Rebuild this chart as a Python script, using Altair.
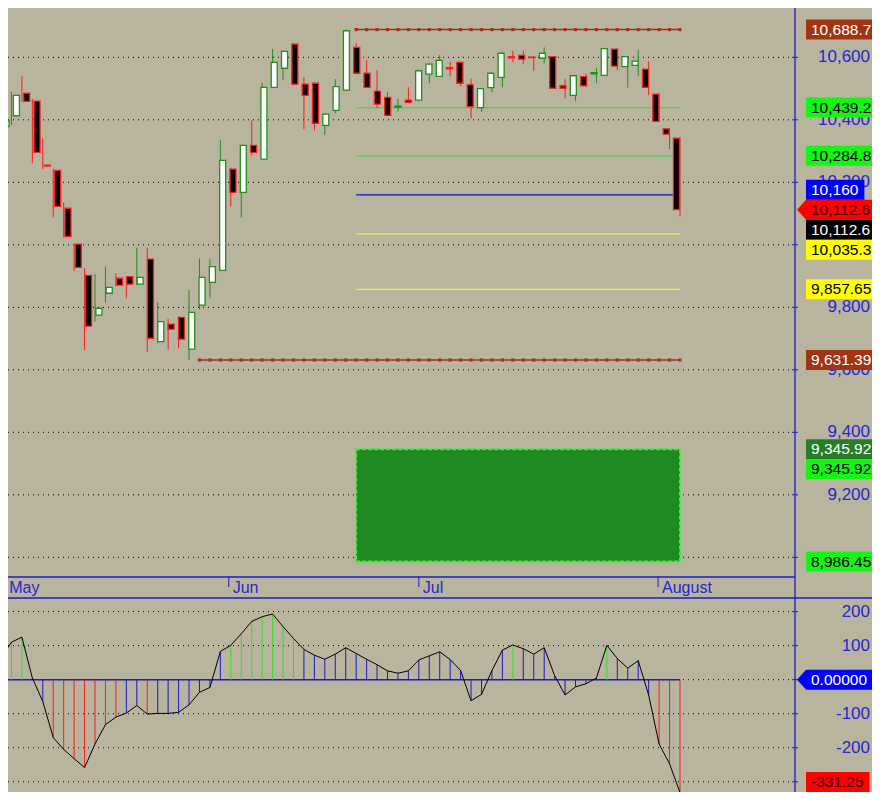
import altair as alt
import pandas as pd

# ---------------- data ----------------
opens = [10378, 10413, 10485, 10460, 10255, 10238, 10117, 10002, 9902, 9775,
         9845, 9893, 9898, 9874, 9954, 9690, 9746, 9768, 9666, 9807,
         9880, 9918, 10242, 10168, 10318, 10274, 10504, 10565, 10642, 10514,
         10517, 10382, 10430, 10495, 10632, 10549, 10492, 10472, 10440, 10463,
         10463, 10546, 10539, 10567, 10584, 10512, 10439, 10503, 10536, 10602,
         10606, 10601, 10597, 10602, 10509, 10478, 10538, 10547, 10542, 10626,
         10570, 10574, 10562, 10482, 10371, 10341]
highs = [10400, 10490, 10540, 10466, 10341, 10242, 10136, 10004, 9925, 9907,
         9930, 9909, 9900, 9991, 9991, 9816, 9763, 9770, 9855, 9956,
         9954, 10335, 10247, 10320, 10399, 10519, 10627, 10622, 10645, 10536,
         10520, 10420, 10530, 10688.7, 10645, 10591, 10559, 10488, 10467, 10504,
         10560, 10580, 10607, 10585, 10586, 10532, 10502, 10551, 10615, 10621,
         10621, 10601, 10632, 10604, 10530, 10543, 10547, 10565, 10630, 10628,
         10604, 10623, 10586, 10484, 10373, 10343]
lows = [10370, 10383, 10457, 10261, 10243, 10088, 10024, 9917, 9663, 9754,
        9815, 9868, 9829, 9872, 9658, 9685, 9666, 9669, 9631.39, 9794,
        9829, 9916, 10122, 10087, 10285, 10272, 10502, 10527, 10511, 10370,
        10365, 10352, 10421, 10493, 10547, 10502, 10437, 10412, 10427, 10455,
        10461, 10517, 10537, 10540, 10508, 10405, 10426, 10489, 10504, 10584,
        10578, 10557, 10581, 10499, 10468, 10461, 10507, 10517, 10540, 10559,
        10503, 10541, 10479, 10393, 10307, 10092]
closes = [10397, 10478, 10459, 10296, 10252, 10123, 10027, 9928, 9740, 9797,
          9864, 9871, 9874, 9896, 9701, 9754, 9730, 9698, 9784, 9896,
          9930, 10270, 10168, 10318, 10296, 10504, 10584, 10619, 10514, 10478,
          10389, 10418, 10506, 10685, 10549, 10504, 10450, 10414, 10444, 10456,
          10557, 10578, 10590, 10563, 10517, 10442, 10500, 10549, 10613, 10598,
          10594, 10599, 10613, 10501, 10501, 10541, 10509, 10551, 10628, 10572,
          10602, 10588, 10504, 10395, 10354, 10112.6]
osc = [65, 110, 125, 5, -64, -170, -205, -232, -258, -189,
       -132, -110, -98, -76, -101, -99, -99, -96, -74, -37,
       -23, 83, 101, 135, 171, 185, 193, 156, 121, 89,
       72, 60, 75, 94, 77, 60, 44, 26, 19, 26,
       58, 70, 82, 59, 27, -62, -43, 27, 87, 102,
       91, 75, 94, 12, -45, -21, -12, 5, 101, 62,
       34, 56, -45, -189, -247, -331.25]

months = ["May", "Jun", "Jul", "August"]
month_at = [0.4, 21.8, 40.0, 62.9]
price_ticks = [10600, 10400, 10200, 10000, 9800, 9600, 9400, 9200, 9000]
osc_ticks = [200, 100, 0, -100, -200, -300]

range_high = 10688.7
range_low = 9631.39
fib_levels = [10439.2, 10284.8, 10160, 10035.3, 9857.65]
fib_labels = ["10,439.2", "10,284.8", "10,160", "10,035.3", "9,857.65"]
zone_top = 9345.92
zone_bottom = 8986.45
last_close = 10112.6
osc_last = -331.25

high_start, low_start, fib_start, last_bar = 34, 19, 34, 65

# ---------------- styling / layout ----------------
BG = "#b9b49d"
AX = "#1c1cc8"
LBL = "#2626d2"
FONT = "Liberation Sans"
W, H = 787, 784
RIGHT = 77
PRICE_BOTTOM = 569
OSC_TOP = 590
P_LO, P_HI = 8937.0, 10757.8
O_LO, O_HI = -330.0, 240.0
BOX_H = 20
TAG_FS = 15.5

xs = alt.Scale(domain=[0.67, 76.01], nice=False, zero=False)
ps = alt.Scale(domain=[P_LO, P_HI], range=[PRICE_BOTTOM, 0], nice=False, zero=False)
oscs = alt.Scale(domain=[O_LO, O_HI], range=[H, OSC_TOP], nice=False, zero=False)


def X(f):
    return alt.X(f, scale=xs, axis=None)


def YP(f):
    return alt.Y(f, scale=ps, axis=None)


def YO(f):
    return alt.Y(f, scale=oscs, axis=None)


n = len(opens)
bars = pd.DataFrame({"i": list(range(n)), "o": opens, "h": highs, "l": lows, "c": closes})
bars["stroke"] = ["#1f8f1f" if c >= o else "#ff1c1c" for o, c in zip(opens, closes)]
bars["fill"] = ["#ffffff" if c >= o else "#000000" for o, c in zip(opens, closes)]

oscdf = pd.DataFrame({"i": list(range(n)), "v": osc, "z": [0] * n})
oscdf["col"] = ["#2ee02e" if v > 100 else ("#ff1c1c" if v < -100 else "#1a1ac8") for v in osc]

# grids
pgrid = alt.Chart(pd.DataFrame({"v": price_ticks})).mark_rule(
    color="black", strokeDash=[1, 4], strokeWidth=1).encode(
    y=YP("v:Q"), x=alt.value(0), x2=alt.value(W - 2))
ogrid = alt.Chart(pd.DataFrame({"v": osc_ticks})).mark_rule(
    color="black", strokeDash=[1, 4], strokeWidth=1).encode(
    y=YO("v:Q"), x=alt.value(0), x2=alt.value(W - 2))

# zone rectangle
zone = alt.Chart(pd.DataFrame({"x0": [fib_start], "x1": [last_bar], "t": [zone_top], "b": [zone_bottom]})).mark_rect(
    fill="#1f8a22", stroke="#3cf03c", strokeDash=[4, 2], strokeWidth=2, clip=True).encode(
    x=X("x0:Q"), x2="x1:Q", y=YP("t:Q"), y2="b:Q")

# fib lines
fibdf = pd.DataFrame({"x0": [fib_start] * 5, "x1": [last_bar] * 5, "v": fib_levels,
                      "col": ["#3ae03a", "#3ae03a", "#1010d0", "#f2f040", "#f2f040"]})
fib = alt.Chart(fibdf).mark_rule(strokeWidth=1.2, clip=True).encode(
    x=X("x0:Q"), x2="x1:Q", y=YP("v:Q"), color=alt.Color("col:N", scale=None))

# high / low range lines with square markers
hl_rows = [{"i": k, "v": range_high, "g": "h"} for k in range(high_start, last_bar + 1)] + \
          [{"i": k, "v": range_low, "g": "l"} for k in range(low_start, last_bar + 1)]
hldf = pd.DataFrame(hl_rows)
hlline = alt.Chart(hldf).mark_line(color="#a0301a", strokeWidth=1.5, clip=True).encode(
    x=X("i:Q"), y=YP("v:Q"), detail="g:N")
hlpts = alt.Chart(hldf).mark_square(color="#a0301a", size=10, opacity=1, clip=True).encode(
    x=X("i:Q"), y=YP("v:Q"))

# candles
wick = alt.Chart(bars).mark_rule(strokeWidth=1, clip=True).encode(
    x=X("i:Q"), y=YP("l:Q"), y2="h:Q", color=alt.Color("stroke:N", scale=None))
body = alt.Chart(bars).mark_bar(size=6, strokeWidth=1.3, clip=True).encode(
    x=X("i:Q"), y=YP("o:Q"), y2="c:Q",
    fill=alt.Fill("fill:N", scale=None), stroke=alt.Stroke("stroke:N", scale=None))

# oscillator
zline = alt.Chart(pd.DataFrame({"x0": [0], "x1": [last_bar], "v": [0]})).mark_rule(
    color=AX, strokeWidth=1.5, clip=True).encode(x=X("x0:Q"), x2="x1:Q", y=YO("v:Q"))
sticks = alt.Chart(oscdf).mark_rule(strokeWidth=1, clip=True).encode(
    x=X("i:Q"), y=YO("z:Q"), y2="v:Q", color=alt.Color("col:N", scale=None))
oline = alt.Chart(oscdf).mark_line(color="black", strokeWidth=1, clip=True).encode(
    x=X("i:Q"), y=YO("v:Q"))

# frame: right axis line, date band
dummy = pd.DataFrame({"a": [0]})
axline = alt.Chart(dummy).mark_rule(color=AX, strokeWidth=1.3).encode(
    x=alt.value(W), y=alt.value(0), y2=alt.value(H))
band1 = alt.Chart(dummy).mark_rule(color=AX, strokeWidth=1.3).encode(
    y=alt.value(PRICE_BOTTOM), x=alt.value(0), x2=alt.value(W))
band2 = alt.Chart(dummy).mark_rule(color=AX, strokeWidth=1.3).encode(
    y=alt.value(OSC_TOP), x=alt.value(0), x2=alt.value(W + RIGHT))
mdf = pd.DataFrame({"m": months, "i": month_at})
mticks = alt.Chart(mdf).mark_rule(color=AX, strokeWidth=1, clip=True).encode(
    x=X("i:Q"), y=alt.value(PRICE_BOTTOM), y2=alt.value(PRICE_BOTTOM + 10))
mlabels = alt.Chart(mdf).mark_text(align="left", baseline="alphabetic", dx=4,
                                   font=FONT, fontSize=16, color=LBL).encode(
    x=X("i:Q"), y=alt.value(PRICE_BOTTOM + 16), text="m:N")

# value tags on the right axis
CW = {",": 0.278, ".": 0.278, "-": 0.333}


def text_w(s, size=TAG_FS):
    return sum(CW.get(ch, 0.556) for ch in s) * size


def build_tags(tags, lo, hi, top, bot):
    pxu = (bot - top) / (hi - lo)
    placed = []
    rows = []
    order = sorted(range(len(tags)), key=lambda k: 0 if tags[k]["arrow"] else 1)
    for k in order:
        t = tags[k]
        y = top + (hi - t["v"]) * pxu
        for _ in range(20):
            hit = next((p for p in placed if abs(p[0] - y) < BOX_H - 0.01), None)
            if hit is None:
                break
            y = hit[0] - BOX_H if t["v"] > hit[1] else hit[0] + BOX_H
        y = min(max(y, top + BOX_H / 2), bot - BOX_H / 2)
        placed.append((y, t["v"]))

        def val(py):
            return hi - (py - top) / pxu

        rows.append({"label": t["label"], "yd": val(y), "yt": val(y - BOX_H / 2), "yb": val(y + BOX_H / 2),
                     "py": y, "fill": t["fill"], "tc": t["tc"], "arrow": t["arrow"],
                     "bx0": W + 11, "bx1": min(W + 11 + 5 + text_w(t["label"]) + 6, W + RIGHT)})
    return pd.DataFrame(rows)


BROWN, LIME, YEL, DKG = "#a13412", "#14f514", "#ffff00", "#267f26"
price_tags = [
    {"label": "10,688.7", "v": range_high, "fill": BROWN, "tc": "#ffffff", "arrow": False},
    {"label": fib_labels[0], "v": fib_levels[0], "fill": LIME, "tc": "#000000", "arrow": False},
    {"label": fib_labels[1], "v": fib_levels[1], "fill": LIME, "tc": "#000000", "arrow": False},
    {"label": fib_labels[2], "v": fib_levels[2], "fill": "#0000ff", "tc": "#ffffff", "arrow": False},
    {"label": "10,112.6", "v": last_close, "fill": "#ff0000", "tc": "#3a0000", "arrow": True},
    {"label": "10,112.6", "v": last_close, "fill": "#000000", "tc": "#ffffff", "arrow": False},
    {"label": fib_labels[3], "v": fib_levels[3], "fill": YEL, "tc": "#000000", "arrow": False},
    {"label": fib_labels[4], "v": fib_levels[4], "fill": YEL, "tc": "#000000", "arrow": False},
    {"label": "9,631.39", "v": range_low, "fill": BROWN, "tc": "#ffffff", "arrow": False},
    {"label": "9,345.92", "v": zone_top, "fill": DKG, "tc": "#ffffff", "arrow": False},
    {"label": "9,345.92", "v": zone_top, "fill": LIME, "tc": "#000000", "arrow": False},
    {"label": "8,986.45", "v": zone_bottom, "fill": LIME, "tc": "#000000", "arrow": False},
]
osc_tags = [
    {"label": "0.00000", "v": 0, "fill": "#0000ff", "tc": "#ffffff", "arrow": True},
    {"label": "-331.25", "v": osc_last, "fill": "#ff0000", "tc": "#3a0000", "arrow": False},
]
ptd = build_tags(price_tags, P_LO, P_HI, 0, PRICE_BOTTOM)
otd = build_tags(osc_tags, O_LO, O_HI, OSC_TOP, H)


def visible_ticks(ticks, tagdf, lo, hi, top, bot):
    """Axis labels that a tag box hides completely are left out (as in the reference)."""
    pxu = (bot - top) / (hi - lo)
    keep = []
    for v in ticks:
        y = top + (hi - v) * pxu
        span = [(r - BOX_H / 2, r + BOX_H / 2) for r in tagdf["py"]]
        covered = all(any(a <= yy <= b for a, b in span) for yy in (y - 5, y, y + 5))
        if not covered:
            keep.append(v)
    return keep


# right axis ticks and labels
pl = pd.DataFrame({"v": price_ticks})
ol = pd.DataFrame({"v": osc_ticks})
plv = visible_ticks(price_ticks, ptd, P_LO, P_HI, 0, PRICE_BOTTOM)
olv = visible_ticks(osc_ticks, otd, O_LO, O_HI, OSC_TOP, H)
pll = pd.DataFrame({"v": plv, "t": [f"{v:,}" for v in plv]})
oll = pd.DataFrame({"v": olv, "t": [f"{v}" for v in olv]})
ptick = alt.Chart(pl).mark_rule(color=AX).encode(y=YP("v:Q"), x=alt.value(W - 3), x2=alt.value(W + 3))
otick = alt.Chart(ol).mark_rule(color=AX).encode(y=YO("v:Q"), x=alt.value(W - 3), x2=alt.value(W + 3))
plab = alt.Chart(pll).mark_text(align="right", baseline="middle", font=FONT, fontSize=17, color=LBL).encode(
    y=YP("v:Q"), x=alt.value(W + RIGHT - 2), text="t:N")
olab = alt.Chart(oll).mark_text(align="right", baseline="middle", font=FONT, fontSize=17, color=LBL).encode(
    y=YO("v:Q"), x=alt.value(W + RIGHT - 2), text="t:N")

ARROW = "M-1,0L1,-2.2L1,2.2Z"


def tag_layers(df, yf):
    rect = alt.Chart(df).mark_rect().encode(
        x=alt.X("bx0:Q", scale=None), x2="bx1:Q", y=yf("yt:Q"), y2="yb:Q",
        fill=alt.Fill("fill:N", scale=None))
    arr = alt.Chart(df[df["arrow"]]).mark_point(shape=ARROW, size=81, filled=True, opacity=1, strokeWidth=0).encode(
        x=alt.value(W + 6.5), y=yf("yd:Q"), color=alt.Color("fill:N", scale=None))
    txt = alt.Chart(df).mark_text(align="left", baseline="middle", font=FONT, fontSize=TAG_FS).encode(
        x=alt.value(W + 16), y=yf("yd:Q"), text="label:N", color=alt.Color("tc:N", scale=None))
    return [rect, arr, txt]


layers = [pgrid, ogrid, zone, fib, hlline, hlpts, wick, body, zline, sticks, oline,
          axline, band1, band2, mticks, mlabels, ptick, otick, plab, olab] + \
         tag_layers(ptd, YP) + tag_layers(otd, YO)

chart = alt.layer(*layers).resolve_scale(x="independent", y="independent").properties(
    width=W, height=H,
    autosize=alt.AutoSizeParams(type="none"),
    padding={"left": 0, "top": 0, "right": RIGHT, "bottom": 0},
    background=BG,
).configure_view(stroke=None)

chart.save("out.html", embed_options={"renderer": "svg", "actions": False})
